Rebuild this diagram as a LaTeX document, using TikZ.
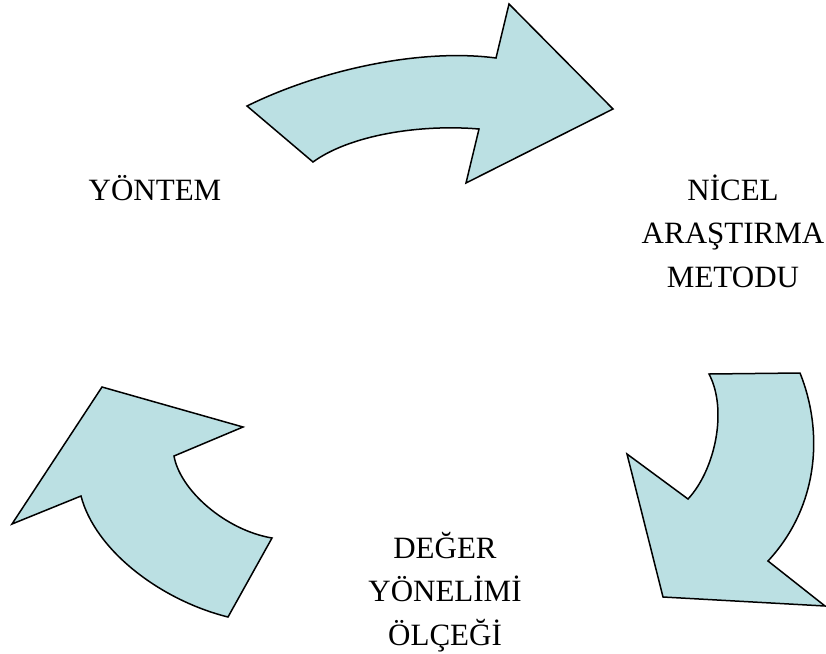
\documentclass[tikz,border=0pt]{standalone}
\usepackage{fontspec}
\setmainfont{Liberation Serif}
\usepackage{tikz}
\definecolor{arrowfill}{RGB}{187,224,227}

\begin{document}
\begin{tikzpicture}[x=1pt, y=-1pt,
    bigarrow/.style={fill=arrowfill, draw=black, line width=1.5pt, line join=miter},
    cyclelabel/.style={font=\fontsize{31}{43.5}\selectfont, align=center, inner sep=0pt}]
  \useasboundingbox (0,0) rectangle (826,653);
  % top arrow
  \draw[bigarrow] (247,106) .. controls (320,70) and (420,48) .. (496,58)
    -- (509,4) -- (613,109) -- (466,183) -- (479,129)
    .. controls (420,124) and (350,135) .. (313,162) -- cycle;
  % right arrow
  \draw[bigarrow] (709,374) -- (800,373)
    .. controls (823,430) and (820,505) .. (768,561)
    -- (825,606) -- (663,597) -- (627,454) -- (688,499)
    .. controls (715,470) and (728,410) .. (709,374) -- cycle;
  % left arrow
  \draw[bigarrow] (102,387) -- (243,427) -- (174,456)
    .. controls (180,490) and (225,530) .. (272,538)
    -- (228,617) .. controls (160,600) and (95,550) .. (81,496)
    -- (12,524) -- cycle;
  \node[cyclelabel] (yontem) at (155,188) {YÖNTEM};
  \node[cyclelabel] (nicel) at (733,231) {NİCEL\\ARAŞTIRMA\\METODU};
  \node[cyclelabel] (deger) at (445,592) {DEĞER\\YÖNELİMİ\\ÖLÇEĞİ};
\end{tikzpicture}
\end{document}
